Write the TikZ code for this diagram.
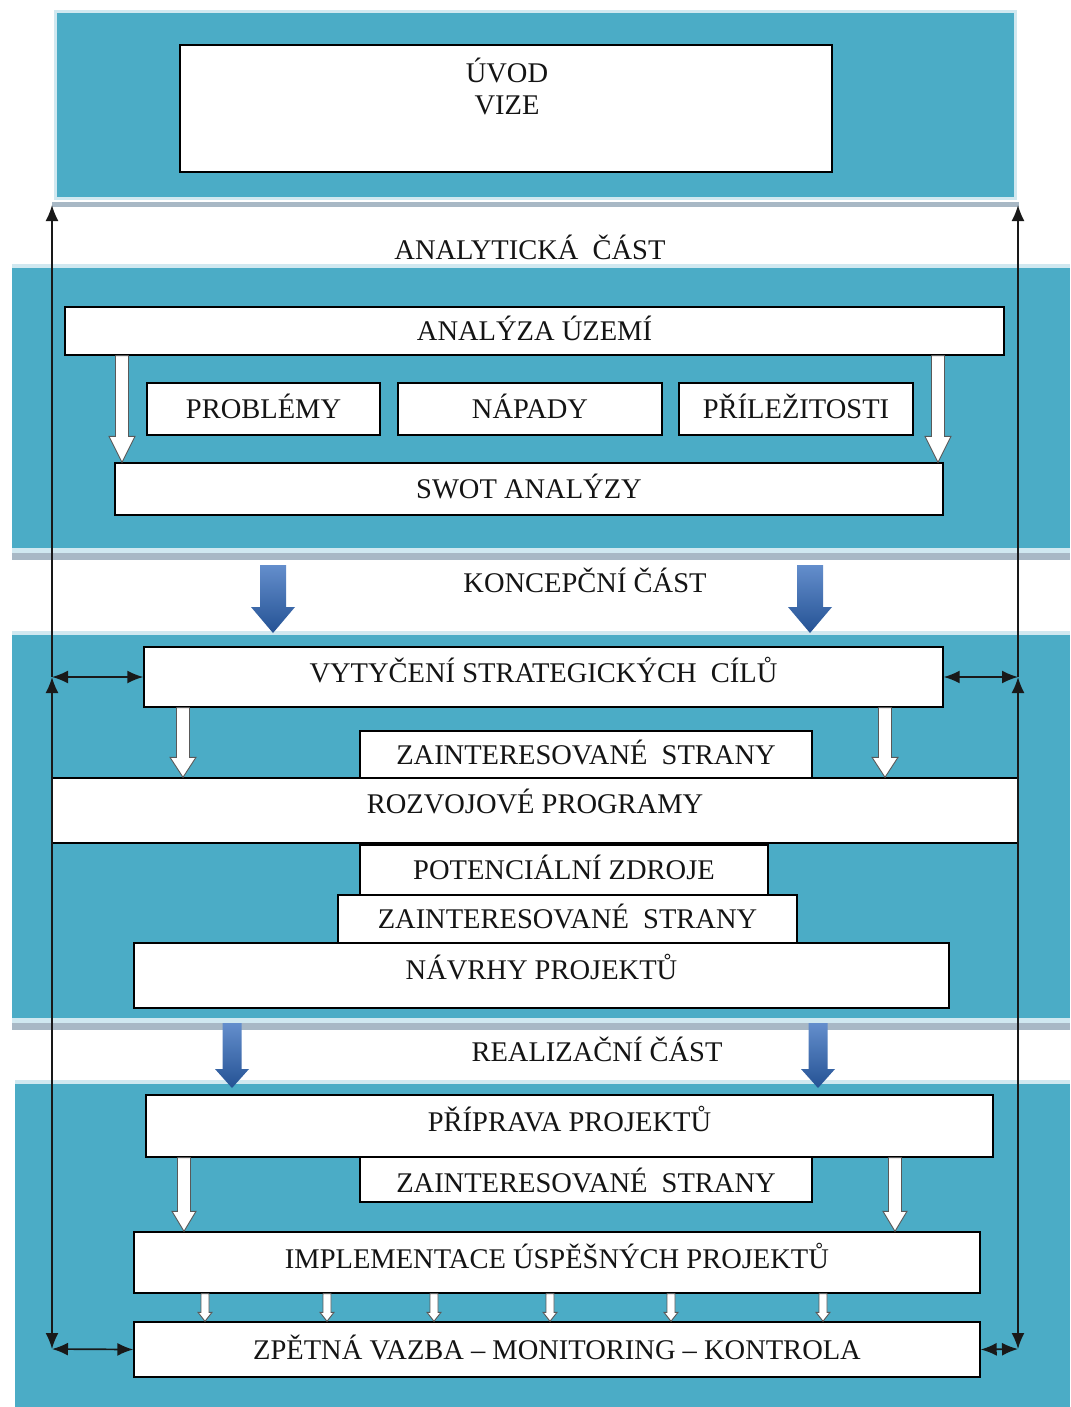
\documentclass[tikz,border=0pt]{standalone}
\usepackage{fontspec}
\setmainfont{Liberation Serif}
\usetikzlibrary{arrows.meta,calc}
\definecolor{teal1}{RGB}{75,172,198}
\definecolor{sepgrey}{RGB}{168,184,197}
\definecolor{lightedge}{RGB}{208,232,240}
\definecolor{txtcol}{RGB}{20,20,20}
\definecolor{bluetop}{RGB}{100,142,204}
\definecolor{bluebot}{RGB}{36,82,148}
\newcommand\bx[7][]{%
  \node[box, minimum width={#5-#3}, minimum height={#6-#4}, #1] (#2) at ({(#3+#5)/2},{(#4+#6)/2}) {#7};}
\newcommand\harrow[6]{%
  \draw[hollow] let \p1=(#2.south), \p2=(#3.north) in
    (#1pt-#4pt,\y1) -- (#1pt-#4pt,\y2+#6pt) -- (#1pt-#5pt,\y2+#6pt) -- (#1pt,\y2)
    -- (#1pt+#5pt,\y2+#6pt) -- (#1pt+#4pt,\y2+#6pt) -- (#1pt+#4pt,\y1) -- cycle;}
\newcommand\barrow[6]{%
  \shade[top color=bluetop, bottom color=bluebot]
    (#1-#5,#2) -- (#1-#5,#3) -- (#1-#6,#3) -- (#1,#4) -- (#1+#6,#3) -- (#1+#5,#3) -- (#1+#5,#2) -- cycle;}
\begin{document}
\begin{tikzpicture}[x=1pt,y=-1pt,
  box/.style={draw=black, fill=white, line width=1.4pt, inner sep=0pt,
    text height=19pt, text depth=0pt, font=\fontsize{28.5}{30}\selectfont, text=txtcol},
  textup/.style={text depth=#1},
  textdown/.style={text height=#1},
  lbl/.style={inner sep=0pt, text height=19pt, text depth=0pt,
    font=\fontsize{28.5}{30}\selectfont, text=txtcol},
  hollow/.style={fill=white, draw=black!65, line width=0.9pt},
  conn/.style={line width=1.7pt, draw=black!90},
  tipb/.tip={Latex[length=16pt,width=13pt]}
]
\useasboundingbox (0,0) rectangle (1070,1407);
\fill[white] (0,0) rectangle (1070,1407);
% top panel
\fill[teal1] (55,12) rectangle (1015,198);
\draw[lightedge, line width=3pt] (55,12) rectangle (1015,198);
\fill[sepgrey] (52,202) rectangle (1019,207);
% band 1
\fill[lightedge] (12,264) rectangle (1070,268);
\fill[teal1] (12,268) rectangle (1070,548);
\fill[lightedge] (12,548) rectangle (1070,553);
\fill[sepgrey] (12,553) rectangle (1070,560);
% band 2
\fill[lightedge] (12,631) rectangle (1070,635);
\fill[teal1] (12,635) rectangle (1070,1018);
\fill[lightedge] (12,1018) rectangle (1070,1023);
\fill[sepgrey] (12,1023) rectangle (1070,1030);
% band 3
\fill[lightedge] (15,1080) rectangle (1070,1084);
\fill[teal1] (15,1084) rectangle (1070,1407);

% boxes
\bx{uvod}{180}{45}{832}{172}{}
\node[lbl] (uvodt) at (507,73) {ÚVOD};
\node[lbl] (vizet) at (507,105) {VIZE};
\node[lbl] (analc) at (530,250) {ANALYTICKÁ\ \ ČÁST};
\bx{anal}{65}{307}{1004}{355}{ANALÝZA ÚZEMÍ}
\bx{prob}{147}{383}{380}{435}{PROBLÉMY}
\bx{napad}{398}{383}{662}{435}{NÁPADY}
\bx{pril}{679}{383}{913}{435}{PŘÍLEŽITOSTI}
\bx{swot}{115}{463}{943}{515}{SWOT ANALÝZY}
\node[lbl] (konc) at (585,583) {KONCEPČNÍ ČÁST};
\bx[textup=8pt]{vyt}{144}{647}{943}{707}{VYTYČENÍ STRATEGICKÝCH\ \ CÍLŮ}
\bx{zsa}{360}{731}{812}{778}{ZAINTERESOVANÉ\ \ STRANY}
\bx[textup=14pt]{rozv}{52}{778}{1018}{843}{ROZVOJOVÉ PROGRAMY}
\bx{pot}{360}{845}{768}{895}{POTENCIÁLNÍ ZDROJE}
\bx{zsb}{338}{895}{797}{943}{ZAINTERESOVANÉ\ \ STRANY}
\bx[textup=12pt]{navrh}{134}{943}{949}{1008}{NÁVRHY PROJEKTŮ}
\node[lbl] (real) at (597,1052) {REALIZAČNÍ ČÁST};
\bx[textup=8pt]{prip}{146}{1095}{993}{1157}{PŘÍPRAVA PROJEKTŮ}
\bx[textdown=25pt]{zsc}{360}{1157}{812}{1202}{ZAINTERESOVANÉ\ \ STRANY}
\bx[textup=8pt]{impl}{134}{1232}{980}{1293}{IMPLEMENTACE ÚSPĚŠNÝCH PROJEKTŮ}
\bx{zpet}{134}{1322}{980}{1377}{ZPĚTNÁ VAZBA – MONITORING – KONTROLA}

% hollow arrows
\harrow{122}{anal}{swot}{6.5}{13}{26}
\harrow{938}{anal}{swot}{6.5}{13}{26}
\harrow{183}{vyt}{rozv}{6.5}{13}{20}
\harrow{885}{vyt}{rozv}{6.5}{13}{20}
\harrow{184}{prip}{impl}{6.5}{12}{20}
\harrow{895}{prip}{impl}{6.5}{12}{20}
\foreach \xx in {205,327,434,550,671,823}{\harrow{\xx}{impl}{zpet}{4}{7}{9}}

% blue arrows
\barrow{273}{565}{607}{633}{13}{22}
\barrow{810}{565}{607}{633}{13}{22}
\barrow{232}{1023}{1069}{1088}{9.5}{17}
\barrow{818}{1023}{1069}{1088}{9.5}{17}

% feedback lines
\coordinate (Ltop) at (52,205);
\coordinate (Lmid) at (52,677);
\coordinate (Lbot) at (52,1349);
\coordinate (Rtop) at (1018,205);
\coordinate (Rmid) at (1018,677);
\coordinate (Rbot) at (1018,1349);
\draw[conn, -tipb] (Lmid) -- (Ltop);
\draw[conn, tipb-tipb] (Lbot) -- (Lmid);
\draw[conn, -tipb] (Rmid) -- (Rtop);
\draw[conn, tipb-tipb] (Rbot) -- (Rmid);
\draw[conn, tipb-tipb] (Lmid) -- (vyt.west);
\draw[conn, tipb-tipb] (vyt.east) -- (Rmid);
\draw[conn, tipb-tipb] (Lbot) -- (zpet.west);
\draw[conn, tipb-tipb] (zpet.east) -- (Rbot);
\end{tikzpicture}
\end{document}
